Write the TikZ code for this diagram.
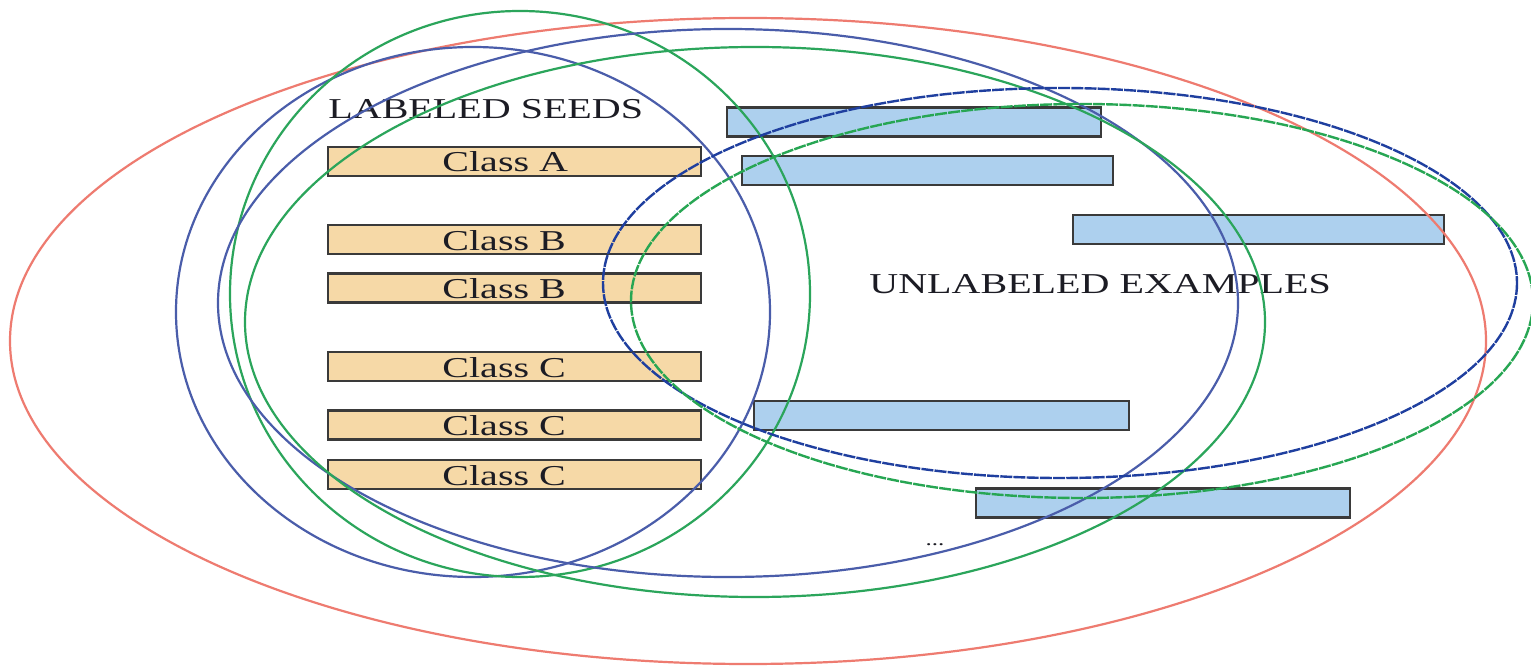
\documentclass[tikz,border=0pt]{standalone}
\usepackage{fontspec}
\setmainfont{Liberation Serif}
\usepackage{graphicx}

\definecolor{ringred}{HTML}{EE7B70}
\definecolor{ringblue}{HTML}{4A5DAA}
\definecolor{ringgreen}{HTML}{2BA55B}
\definecolor{dashblue}{HTML}{1F3F9F}
\definecolor{dashgreen}{HTML}{27A653}
\definecolor{seedfill}{HTML}{F6D9A7}
\definecolor{poolfill}{HTML}{ADD0EE}
\definecolor{boxline}{HTML}{3A3A3A}
\definecolor{inkdark}{HTML}{1C1C24}

% horizontally widened serif lettering
\newcommand{\widetext}[1]{\scalebox{1.39}[1]{#1}}

\tikzset{
  ring/.style={line width=1.1pt},
  dashring/.style={line width=1.2pt, dash pattern=on 6pt off 0.6pt},
  seedbox/.style={draw=boxline, fill=seedfill, line width=1.2pt,
    minimum width=373*0.5pt, minimum height=29*0.5pt, inner sep=0pt},
  poolbox/.style={draw=boxline, fill=poolfill, line width=1.2pt,
    minimum width=373*0.5pt, minimum height=29*0.5pt, inner sep=0pt},
  txt/.style={inner sep=0pt, text=inkdark,
    font=\fontsize{14.4}{17}\selectfont},
}

\begin{document}
\begin{tikzpicture}[x=0.5pt, y=-0.5pt]
\useasboundingbox (0,0) rectangle (1531,668);
\fill[white] (0,0) rectangle (1531,668);

% labeled seed boxes
\node[seedbox] (sA)  at (514.5,161.5) {};
\node[seedbox] (sB1) at (514.5,239.5) {};
\node[seedbox] (sB2) at (514.5,288) {};
\node[seedbox] (sC1) at (514.5,366.5) {};
\node[seedbox] (sC2) at (514.5,425) {};
\node[seedbox] (sC3) at (514.5,474.5) {};

\node[txt, anchor=base west] (tA)  at (442,172)   {\widetext{Class A}};
\node[txt, anchor=base west] (tB1) at (442,250)   {\widetext{Class B}};
\node[txt, anchor=base west] (tB2) at (442,298.5) {\widetext{Class B}};
\node[txt, anchor=base west] (tC1) at (442,377)   {\widetext{Class C}};
\node[txt, anchor=base west] (tC2) at (442,435.5) {\widetext{Class C}};
\node[txt, anchor=base west] (tC3) at (442,485)   {\widetext{Class C}};

% unlabeled example boxes
\node[poolbox, minimum width=374*0.5pt] (u1) at (914,122)    {};
\node[poolbox, minimum width=371*0.5pt] (u2) at (927.5,170.5) {};
\node[poolbox, minimum width=371*0.5pt] (u3) at (1258.5,229.5) {};
\node[poolbox, minimum width=375*0.5pt] (u4) at (941.5,415.5) {};
\node[poolbox, minimum width=374*0.5pt] (u5) at (1163,503)   {};

% headings
\node[txt, anchor=base west] (seeds) at (328,119) {\widetext{LABELED SEEDS}};
\node[txt, anchor=base west] (unlab) at (869,293) {\widetext{UNLABELED EXAMPLES}};
\node[txt, font=\fontsize{9}{9}\selectfont] (more) at (935,545) {\widetext{...}};

% sets drawn over the examples
\draw[ring, ringred]   (748,341) ellipse [x radius=738, y radius=323];
\draw[ring, ringblue]  (473,312) ellipse [x radius=297, y radius=265];
\draw[ring, ringgreen] (520,294) ellipse [x radius=290, y radius=283];
\draw[ring, ringblue]  (728,303) ellipse [x radius=510, y radius=274];
\draw[ring, ringgreen] (755,322) ellipse [x radius=510, y radius=275];
\draw[dashring, dashblue]  (1060,283) ellipse [x radius=457, y radius=195];
\draw[dashring, dashgreen] (1082,301) ellipse [x radius=451, y radius=197];
\end{tikzpicture}
\end{document}
